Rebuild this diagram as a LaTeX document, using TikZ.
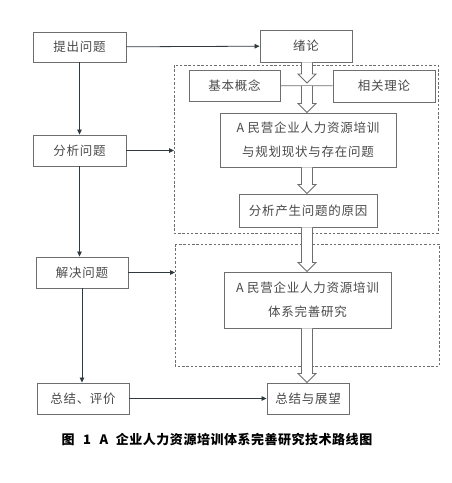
\documentclass[tikz,border=0pt]{standalone}
\usepackage{fontspec}
\newfontfamily\cjk[LetterSpace=6]{Noto Sans CJK SC}
\newfontfamily\cjkcap[LetterSpace=4]{Noto Sans CJK SC}
\usetikzlibrary{arrows.meta,positioning,calc}
\definecolor{boxline}{HTML}{6E6E6E}
\definecolor{boxtext}{HTML}{4A4A4A}
\definecolor{flow}{HTML}{2F3A40}

% hollow block arrow from the bottom of one node to the top of another
\newcommand\hollowarrow[2]{%
  \draw[hollow] let \p1=(#1), \p2=(#2) in
    (\x1-5.5pt,\y1) -- (\x1-5.5pt,\y2+9pt) -- (\x1-9pt,\y2+9pt) -- (\x1,\y2)
    -- (\x1+9pt,\y2+9pt) -- (\x1+5.5pt,\y2+9pt) -- (\x1+5.5pt,\y1);}

\begin{document}
\begin{tikzpicture}[x=1pt, y=-1pt,
  box/.style={draw=boxline, line width=0.9pt, fill=white, text=boxtext,
              font=\cjk\fontsize{12.5}{15}\selectfont, inner sep=0pt},
  bigbox/.style={box, font=\cjk\fontsize{12.5}{24}\selectfont, align=center},
  group/.style={draw=boxline, line width=0.8pt, dash pattern=on 2.5pt off 1.8pt},
  arr/.style={-{Triangle[length=5pt, width=4.5pt]}, draw=flow, line width=0.8pt},
  link/.style={draw=boxline, line width=0.8pt},
  hollow/.style={draw=boxline, line width=0.8pt, fill=white},
]
  \useasboundingbox[fill=white] (0,0) rectangle (452,483);

  % dashed frames
  \draw[group] (174,65) rectangle (438,233);
  \draw[group] (175,244) rectangle (439,366);

  % left column
  \node[box, minimum width=93pt, minimum height=30pt] (tichu) at (79.5,47) {提出问题};
  \node[box, minimum width=93pt, minimum height=31pt] (fenxi) at (79.5,150.5) {分析问题};
  \node[box, minimum width=92pt, minimum height=31pt] (jiejue) at (82,272.5) {解决问题};
  \node[box, minimum width=92pt, minimum height=31pt] (pingjia) at (83,398.5) {总结、评价};

  % right column
  \node[box, minimum width=92pt, minimum height=32pt] (xulun) at (306,46) {绪论};
  \node[box, minimum width=91pt, minimum height=31pt] (gainian) at (234.5,85.5) {基本概念};
  \node[box, minimum width=102pt, minimum height=32pt] (lilun) at (384,86) {相关理论};
  \node[bigbox, minimum width=176pt, minimum height=54pt] (xianzhuang) at (308,140)
    {A 民营企业人力资源培训\\与规划现状与存在问题};
  \node[box, minimum width=138pt, minimum height=33pt] (yuanyin) at (308,210.5) {分析产生问题的原因};
  \node[bigbox, minimum width=167pt, minimum height=56pt] (wanshan) at (307.5,300)
    {A 民营企业人力资源培训\\体系完善研究};
  \node[box, minimum width=82pt, minimum height=31pt] (zhanwang) at (308,398.5) {总结与展望};

  \coordinate (mid) at (307,85.5);

  % connectors
  \draw[arr] (tichu) -- (xulun);
  \draw[arr] (tichu) -- (fenxi);
  \draw[arr] (fenxi) -- (fenxi -| 174,0);
  \draw[arr] (fenxi.south) -- (jiejue.north -| fenxi.south);
  \draw[arr] (jiejue) -- (jiejue -| 175,0);
  \draw[arr] (jiejue.south) -- (pingjia.north -| jiejue.south);
  \draw[arr] (pingjia) -- (zhanwang);
  \draw[link] (gainian) -- (lilun);

  \hollowarrow{xulun.south -| mid}{$(mid)+(0,-2.5)$}
  \hollowarrow{$(mid)+(0,0.5)$}{xianzhuang.north -| mid}
  \hollowarrow{xianzhuang.south -| mid}{yuanyin.north -| mid}
  \hollowarrow{yuanyin.south -| mid}{wanshan.north -| mid}
  \hollowarrow{wanshan.south -| mid}{zhanwang.north -| mid}

  \node[font=\cjkcap\bfseries\fontsize{13}{15}\selectfont] (caption) at (217,440)
    {图\hspace{0.65em}1\hspace{0.65em}A\hspace{0.6em}企业人力资源培训体系完善研究技术路线图};
\end{tikzpicture}
\end{document}
